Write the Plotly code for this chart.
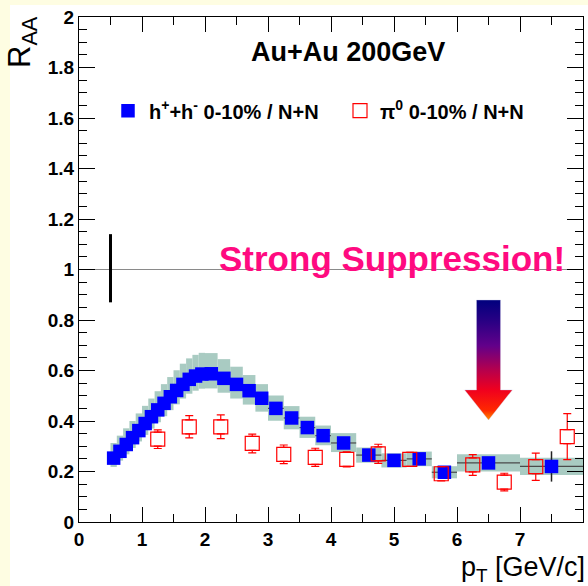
import numpy as np
import plotly.graph_objects as go

# ---- h+ + h-  0-10% central Au+Au / N+N ----
pt_h = [0.55, 0.65, 0.75, 0.85, 0.95, 1.05, 1.15, 1.25, 1.35, 1.45, 1.55, 1.65, 1.75, 1.85, 1.95,
        2.1, 2.3, 2.5, 2.7, 2.9,
        3.125, 3.375, 3.625, 3.875,
        4.2, 4.6, 5.0, 5.4, 5.8, 6.5, 7.5]
binw_h = [0.1] * 15 + [0.2] * 5 + [0.25] * 4 + [0.4] * 5 + [1.0] * 2
raa_h = [0.253, 0.28, 0.307, 0.334, 0.362, 0.39, 0.417, 0.444, 0.47, 0.496, 0.521, 0.545, 0.565, 0.578, 0.586,
         0.587, 0.569, 0.545, 0.52, 0.49,
         0.45, 0.412, 0.374, 0.342,
         0.313, 0.265, 0.244, 0.25, 0.197, 0.234, 0.22]
stat_h = [0.003] * 15 + [0.004] * 5 + [0.004] * 4 + [0.006, 0.008, 0.01, 0.012, 0.015, 0.02, 0.06]
syst_up_h = [0.06, 0.062, 0.064, 0.066, 0.068, 0.07, 0.072, 0.074, 0.076, 0.078, 0.08, 0.082, 0.083, 0.084, 0.084,
             0.082, 0.076, 0.07, 0.062, 0.056,
             0.051, 0.047, 0.043, 0.04,
             0.039, 0.03, 0.028, 0.029, 0.024, 0.034, 0.034]
syst_dn_h = [0.035, 0.037, 0.039, 0.041, 0.043, 0.045, 0.047, 0.049, 0.051, 0.053, 0.055, 0.056, 0.057, 0.058, 0.058,
             0.058, 0.057, 0.056, 0.055, 0.053,
             0.049, 0.045, 0.041, 0.038,
             0.036, 0.03, 0.028, 0.029, 0.024, 0.034, 0.034]

# ---- pi0  0-10% central Au+Au / N+N ----
pt_pi = [1.25, 1.75, 2.25, 2.75, 3.25, 3.75, 4.25, 4.75, 5.25, 5.75, 6.25, 6.75, 7.25, 7.75]
raa_pi = [0.328, 0.377, 0.377, 0.311, 0.268, 0.256, 0.248, 0.27, 0.248, 0.191, 0.226, 0.158, 0.219, 0.338]
err_pi = [0.037, 0.044, 0.047, 0.037, 0.037, 0.036, 0.03, 0.038, 0.027, 0.028, 0.041, 0.035, 0.054, 0.091]

# normalisation uncertainty at unity
NORM_X = 0.5
NORM_LO, NORM_HI = 0.87, 1.14

# gradient arrow (data units)
ARROW_X = 6.5
ARROW_TOP, ARROW_NECK, ARROW_TIP = 0.879, 0.523, 0.404
ARROW_SHAFT_HW, ARROW_HEAD_HW = 0.19, 0.378

X_RANGE = [0, 8]
Y_RANGE = [0, 2]

W, H = 588, 586
ML, MR, MT, MB = 79, 5, 17, 64
PW, PH = W - ML - MR, H - MT - MB

FONT = "Liberation Sans, Arial, Helvetica, sans-serif"
BLUE = "#0000FF"
RED = "#FF0000"
BAND = "#A9CBC2"
PINK = "#FF0A80"

# marker sizes in px and the pi0 square half-height in y data units
SQ_H = 13.5
SQ_PI = 14
half_pi = (SQ_PI / 2) * (Y_RANGE[1] - Y_RANGE[0]) / PH

raa_h_a = np.array(raa_h)
up_h_a = np.array(syst_up_h)
dn_h_a = np.array(syst_dn_h)
raa_pi_a = np.array(raa_pi)
err_pi_a = np.array(err_pi)

fig = go.Figure()

# systematic boxes
fig.add_trace(go.Bar(
    x=pt_h, y=up_h_a + dn_h_a, base=raa_h_a - dn_h_a, width=binw_h,
    marker=dict(color=BAND, line=dict(width=0)),
    showlegend=False, hoverinfo="skip"))

# reference line at R_AA = 1
fig.add_trace(go.Scatter(
    x=X_RANGE, y=[1, 1], mode="lines",
    line=dict(color="#8A8A8A", width=1.2), showlegend=False, hoverinfo="skip"))

# normalisation bar
fig.add_trace(go.Scatter(
    x=[NORM_X, NORM_X], y=[NORM_LO, NORM_HI], mode="lines",
    line=dict(color="black", width=3), showlegend=False, hoverinfo="skip"))

# charged hadrons
fig.add_trace(go.Scatter(
    x=pt_h, y=raa_h, mode="markers", name="h<sup>+</sup>+h<sup>-</sup> 0-10% / N+N",
    legend="legend",
    marker=dict(symbol="square", size=SQ_H, color=BLUE, line=dict(width=0)),
    error_x=dict(type="data", array=np.array(binw_h) / 2, color="#4A4A4A", thickness=1.2, width=0),
    error_y=dict(type="data", array=stat_h, color="#222222", thickness=1.5, width=0)))

# pi0 error bars, drawn outside the open squares
fig.add_trace(go.Scatter(
    x=pt_pi, y=raa_pi_a + half_pi, mode="markers",
    marker=dict(size=1, opacity=0), showlegend=False, hoverinfo="skip",
    error_y=dict(type="data", symmetric=False,
                 array=np.clip(err_pi_a - half_pi, 0, None), arrayminus=np.zeros(len(pt_pi)),
                 color=RED, thickness=1.2, width=4)))
fig.add_trace(go.Scatter(
    x=pt_pi, y=raa_pi_a - half_pi, mode="markers",
    marker=dict(size=1, opacity=0), showlegend=False, hoverinfo="skip",
    error_y=dict(type="data", symmetric=False,
                 array=np.zeros(len(pt_pi)), arrayminus=np.clip(err_pi_a - half_pi, 0, None),
                 color=RED, thickness=1.2, width=4)))

# pi0 points
fig.add_trace(go.Scatter(
    x=pt_pi, y=raa_pi, mode="markers", name="\u03c0<sup>0</sup> 0-10% / N+N",
    legend="legend2",
    marker=dict(symbol="square-open", size=SQ_PI, color=RED, line=dict(width=1.2, color=RED))))

# arrow with vertical colour gradient
ax = [ARROW_X - ARROW_SHAFT_HW, ARROW_X + ARROW_SHAFT_HW, ARROW_X + ARROW_SHAFT_HW,
      ARROW_X + ARROW_HEAD_HW, ARROW_X, ARROW_X - ARROW_HEAD_HW, ARROW_X - ARROW_SHAFT_HW,
      ARROW_X - ARROW_SHAFT_HW]
ay = [ARROW_TOP, ARROW_TOP, ARROW_NECK, ARROW_NECK, ARROW_TIP, ARROW_NECK, ARROW_NECK, ARROW_TOP]
fig.add_trace(go.Scatter(
    x=ax, y=ay, mode="lines", fill="toself", line=dict(width=0.6, color="rgba(200,200,230,0.6)"),
    fillgradient=dict(type="vertical", colorscale=[
        [0.0, "#FF8A00"], [0.08, "#FF2800"], [0.25, "#F0001E"], [0.42, "#B4004E"],
        [0.62, "#62008A"], [0.82, "#2A0084"], [1.0, "#00007E"]]),
    showlegend=False, hoverinfo="skip"))


def px_to_paper_x(px):
    return (px - ML) / PW


def px_to_paper_y(py):
    return (H - MB - py) / PH


annotations = [
    dict(text="Au+Au 200GeV", x=4.27, y=1.862, xref="x", yref="y", showarrow=False,
         xanchor="center", yanchor="middle",
         font=dict(family=FONT, size=27, color="black", weight="bold")),
    dict(text="Strong Suppression!", x=4.975, y=0.958, xref="x", yref="y", showarrow=False,
         xanchor="center", yanchor="bottom",
         font=dict(family=FONT, size=35, color=PINK, weight="bold")),
    dict(text="R<sub>AA</sub>", textangle=-90, x=px_to_paper_x(22), y=px_to_paper_y(42),
         xref="paper", yref="paper", showarrow=False, xanchor="center", yanchor="middle",
         font=dict(family=FONT, size=31, color="black")),
    dict(text="p<sub>T</sub> [GeV/c]", x=px_to_paper_x(587), y=px_to_paper_y(569),
         xref="paper", yref="paper", showarrow=False, xanchor="right", yanchor="middle",
         font=dict(family=FONT, size=27, color="black")),
]

shapes = [
    # white canvas behind the frame
    dict(type="rect", xref="paper", yref="paper", layer="below",
         x0=px_to_paper_x(10), x1=px_to_paper_x(W + 5), y0=px_to_paper_y(H + 5), y1=px_to_paper_y(5),
         fillcolor="white", line=dict(width=0)),
]

axis_common = dict(
    showgrid=False, zeroline=False, showline=True, linecolor="black", linewidth=1,
    mirror="ticks", ticks="inside", tickcolor="black", tickwidth=1,
    tickfont=dict(family=FONT, size=19, color="black", weight="bold"),
)

legend_common = dict(
    orientation="h", xanchor="left", yanchor="middle", bgcolor="rgba(0,0,0,0)",
    font=dict(family=FONT, size=20, color="black", weight="bold"),
    itemsizing="trace",
)

fig.update_layout(
    width=W, height=H,
    margin=dict(l=ML, r=MR, t=MT, b=MB, pad=0),
    paper_bgcolor="#FEFDE2", plot_bgcolor="white",
    barmode="overlay",
    xaxis=dict(range=X_RANGE, dtick=1, ticklen=15,
               minor=dict(dtick=0.5, ticklen=8, ticks="inside", tickcolor="black"),
               **axis_common),
    yaxis=dict(range=Y_RANGE, dtick=0.2, ticklen=16,
               minor=dict(dtick=0.05, ticklen=8, ticks="inside", tickcolor="black"),
               **axis_common),
    legend=dict(x=px_to_paper_x(107), y=px_to_paper_y(110.7), itemwidth=32, **legend_common),
    legend2=dict(x=px_to_paper_x(340), y=px_to_paper_y(110.7), itemwidth=30, **legend_common),
    annotations=annotations,
    shapes=shapes,
    showlegend=True,
)

fig.write_html("out.html")
